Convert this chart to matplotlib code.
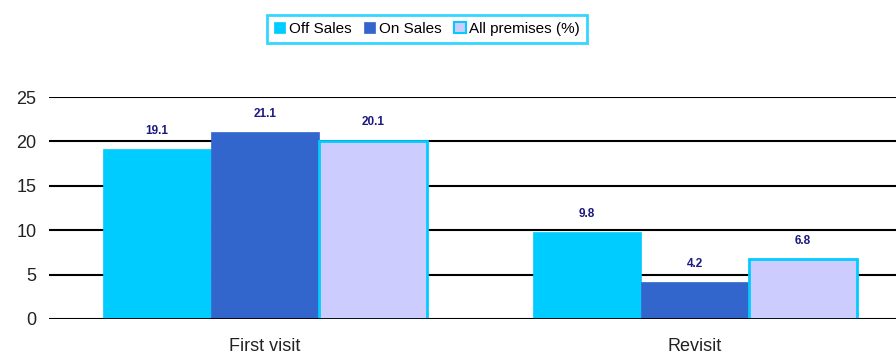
import matplotlib.pyplot as plt
from matplotlib.patches import Patch
import numpy as np

# Data
categories = ['First visit', 'Revisit']
series_names = ['Off Sales', 'On Sales', 'All premises (%)']
off_sales = [19.1, 9.8]
on_sales = [21.1, 4.2]
all_premises = [20.1, 6.8]

face_colors = ['#00CCFF', '#3366CC', '#CCCCFF']
edge_colors = ['#00CCFF', '#3366CC', '#00CCFF']
label_color = '#1A1A80'

fig = plt.figure(figsize=(8.96, 3.58), dpi=100)
ax = fig.add_axes([0.0547, 0.109, 0.9453, 0.62])

x = np.arange(len(categories))
width = 0.251
series = [off_sales, on_sales, all_premises]

for i, vals in enumerate(series):
    pos = x + (i - 1) * width
    lw = 2 if i == 2 else 0.5
    bars = ax.bar(pos, vals, width, color=face_colors[i], edgecolor=edge_colors[i],
                  linewidth=lw, zorder=3)
    for b, v in zip(bars, vals):
        ax.annotate(f'{v:.1f}', (b.get_x() + b.get_width() / 2, v),
                    xytext=(0, 13), textcoords='offset points',
                    ha='center', va='center', fontsize=8.5, fontweight='bold',
                    color=label_color, family='Liberation Sans')

ax.set_xlim(-0.502, 1.467)
ax.set_ylim(0, 25)
ax.set_yticks([0, 5, 10, 15, 20, 25])
ax.yaxis.grid(True, color='black', linewidth=1.5, zorder=0)
ax.set_axisbelow(True)
for s in ax.spines.values():
    s.set_visible(False)
ax.axhline(0, color='black', linewidth=2, zorder=4)

ax.set_xticks(x)
ax.set_xticklabels(categories)
ax.tick_params(axis='x', length=0, pad=14, labelsize=13)
ax.tick_params(axis='y', length=0, pad=9, labelsize=13)
for lbl in ax.get_xticklabels() + ax.get_yticklabels():
    lbl.set_family('Liberation Sans')
    lbl.set_color('#222222')

handles = [Patch(facecolor=face_colors[i], edgecolor=edge_colors[i],
                 linewidth=1.5 if i == 2 else 0.5) for i in range(3)]
leg = fig.legend(handles, series_names, loc='center', bbox_to_anchor=(427 / 896, 1 - 29 / 358),
                 ncol=3, frameon=True, fancybox=False, handlelength=0.75, handleheight=0.75,
                 handletextpad=0.25, columnspacing=0.8, borderpad=0.45,
                 prop={'family': 'Liberation Sans', 'size': 11})
leg.get_frame().set_edgecolor('#00CCFF')
leg.get_frame().set_linewidth(2)

fig.savefig('out.png', dpi=100)
